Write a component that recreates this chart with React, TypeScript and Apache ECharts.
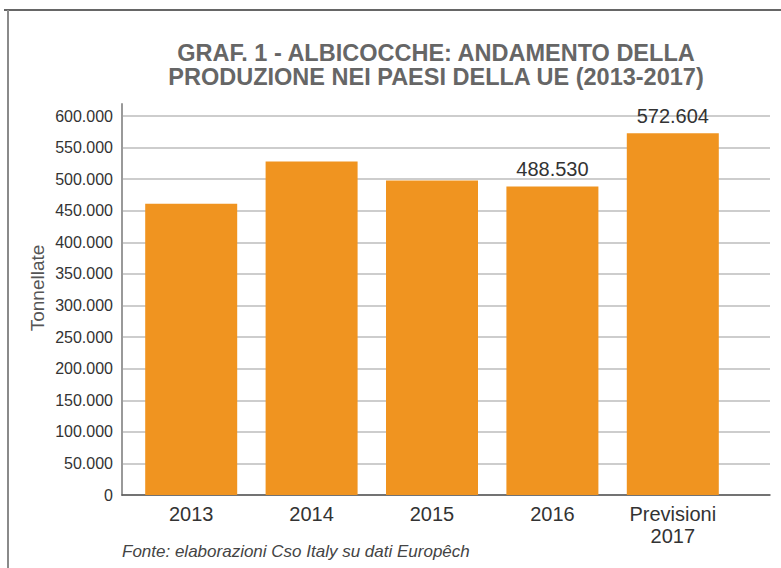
import React, { useEffect, useRef } from "react";
import * as echarts from "echarts";

const categories = ["2013", "2014", "2015", "2016", "Previsioni\n2017"];
const values = [461000, 528000, 497800, 488530, 572604];
const labelled = [false, false, false, true, true];
const yTicksMax = 600000;
const yInterval = 50000;
const titleLines = [
  "GRAF. 1 - ALBICOCCHE: ANDAMENTO DELLA",
  "PRODUZIONE NEI PAESI DELLA UE (2013-2017)",
];
const yAxisName = "Tonnellate";
const footnote = "Fonte: elaborazioni Cso Italy su dati Europêch";

const fmt = (v: number) =>
  Math.round(v)
    .toString()
    .replace(/\B(?=(\d{3})+(?!\d))/g, ".");

export default function App() {
  const ref = useRef<HTMLDivElement>(null);
  useEffect(() => {
    if (!ref.current) return;
    const chart = echarts.init(ref.current, null, { renderer: "svg" });
    const font = "'Liberation Sans', Arial, sans-serif";
    chart.setOption({
      animation: false,
      backgroundColor: "#ffffff",
      textStyle: { fontFamily: font },
      grid: [
        { left: 122, right: 11, top: 116, bottom: 73 },
        { left: 122, right: 11, top: 104, bottom: 73 },
        { left: 131, right: 48, top: 116, bottom: 73 },
      ],
      xAxis: [
        {
          gridIndex: 0,
          type: "category",
          data: categories,
          axisLine: { show: true, lineStyle: { color: "#555", width: 1.5 } },
          axisTick: { show: false },
          axisLabel: { show: false },
          splitLine: { show: false },
        },
        {
          gridIndex: 1,
          type: "category",
          data: categories,
          show: false,
        },
        {
          gridIndex: 2,
          type: "category",
          data: categories,
          axisLine: { show: false },
          axisTick: { show: false },
          axisLabel: {
            show: true,
            fontSize: 20,
            lineHeight: 22,
            color: "#333",
            margin: 8,
            fontFamily: font,
          },
        },
      ],
      yAxis: [
        {
          gridIndex: 0,
          type: "value",
          min: 0,
          max: yTicksMax,
          interval: yInterval,
          axisLine: { show: false },
          axisTick: { show: false },
          axisLabel: {
            fontSize: 16,
            color: "#333",
            margin: 9,
            fontFamily: font,
            formatter: (v: number) => fmt(v),
          },
          splitLine: { show: true, lineStyle: { color: "#bdbdbd", width: 1.5 } },
        },
        {
          gridIndex: 1,
          type: "value",
          min: 0,
          max: 1,
          axisLine: { show: true, lineStyle: { color: "#999", width: 2 } },
          axisTick: { show: false },
          axisLabel: { show: false },
          splitLine: { show: false },
        },
        {
          gridIndex: 2,
          type: "value",
          min: 0,
          max: yTicksMax,
          show: false,
        },
      ],
      series: [
        {
          type: "bar",
          xAxisIndex: 2,
          yAxisIndex: 2,
          barWidth: 92,
          itemStyle: { color: "#f09420" },
          data: values.map((v, i) => ({
            value: v,
            label: {
              show: labelled[i],
              position: "top",
              distance: 7,
              fontSize: 20,
              color: "#333",
              fontFamily: font,
              formatter: (p: any) => fmt(p.value),
            },
          })),
        },
      ],
      graphic: [
        {
          type: "line",
          shape: { x1: 4, y1: 10, x2: 781, y2: 10 },
          style: { stroke: "#333", lineWidth: 1.5 },
        },
        {
          type: "line",
          shape: { x1: 8, y1: 10, x2: 8, y2: 568 },
          style: { stroke: "#8a8a8a", lineWidth: 2 },
        },
        ...titleLines.map((t, i) => ({
          type: "text",
          x: 436,
          y: 53 + i * 24,
          style: {
            text: t,
            fontSize: 23.5,
            fontWeight: "bold",
            fontFamily: font,
            fill: "#666",
            textAlign: "center",
            textVerticalAlign: "middle",
          },
        })),
        {
          type: "text",
          x: 37,
          y: 288,
          rotation: Math.PI / 2,
          style: {
            text: yAxisName,
            fontSize: 19,
            fontFamily: font,
            fill: "#555",
            textAlign: "center",
            textVerticalAlign: "middle",
          },
        },
        {
          type: "text",
          x: 122,
          y: 551,
          style: {
            text: footnote,
            fontSize: 17,
            fontStyle: "italic",
            fontFamily: font,
            fill: "#444",
            textAlign: "left",
            textVerticalAlign: "middle",
          },
        },
      ],
    });
    return () => chart.dispose();
  }, []);
  return (
    <div
      ref={ref}
      style={{ position: "fixed", left: 0, top: 0, width: 781, height: 568 }}
    />
  );
}
